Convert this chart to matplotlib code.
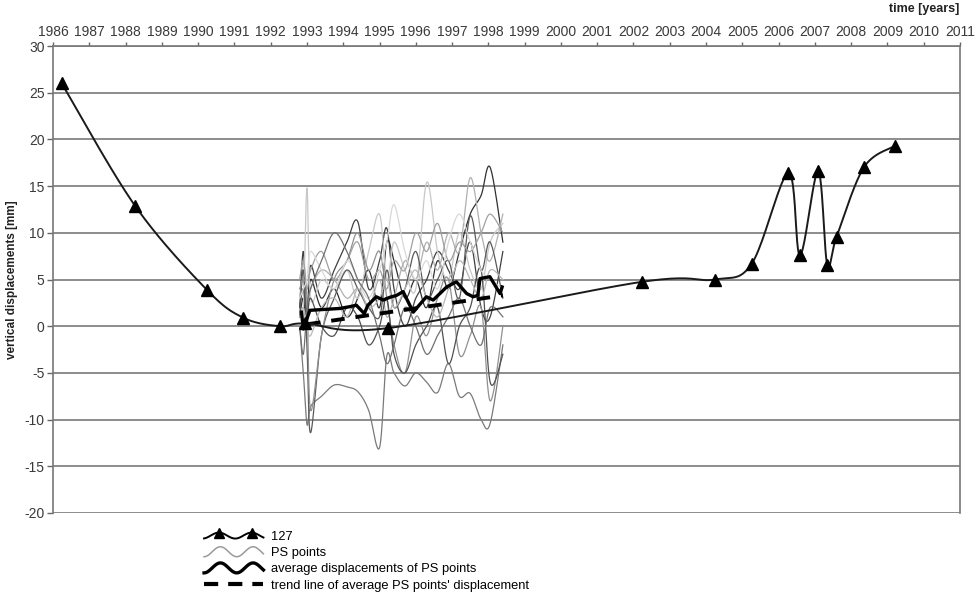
import numpy as np
import matplotlib
matplotlib.use("Agg")
import matplotlib.pyplot as plt
from matplotlib.lines import Line2D
from matplotlib.legend_handler import HandlerBase

plt.rcParams['font.family'] = ['Liberation Sans', 'DejaVu Sans']
plt.rcParams['axes.unicode_minus'] = False

# ---------------- data ----------------
years_ticks = list(range(1986, 2012))
y_ticks = list(range(-20, 31, 5))

# levelling benchmark 127
bm_time = [1986.24, 1988.26, 1990.24, 1991.25, 1992.26, 1992.95, 1995.24,
           2002.23, 2004.25, 2005.26, 2006.27, 2006.59, 2007.09, 2007.34,
           2007.60, 2008.35, 2009.20]
bm_disp = [26.0, 12.9, 3.9, 0.9, 0.0, 0.3, -0.2,
           4.75, 5.0, 6.7, 16.4, 7.6, 16.6, 6.6,
           9.6, 17.0, 19.3]

# PS points time grid
ps_time = [1992.80, 1992.90, 1993.00, 1993.10, 1993.40, 1993.75, 1994.10, 1994.40,
           1994.70, 1995.00, 1995.20, 1995.40, 1995.70, 1996.00, 1996.30, 1996.60,
           1996.90, 1997.20, 1997.50, 1997.80, 1998.05, 1998.40]
ps_a = [2, 8, 1, 6.5, 3, 6, 9, 11.2, 4, 7, 10.5, 4, 0, 3, 5, 8, 6, 4, 9, 2, 1, 8]
ps_b = [0, -5, -10.5, -8.6, -7.5, -6.3, -6.5, -7, -9, -13, -3.2, -5, -6.4, -5, -6, -7.1, -4, -7.5, -7.2, -10, -10.4, -2]
ps_c = [1, 3, 0, 5, 2, 4, 1, 3, 6, 2, 9, 7, 3, 5, 2, 7, 4, 8, 12, 14, 17, 9]
ps_d = [0, 2, 14.8, 3, 5, 4, 6, 3, 8, 12, 5, 9, 6, 4, 15.4, 8, 5, 10, 6, 4, 9, 11]
ps_e = [3, 5, 2, 4, 6, 5, 3, 4, 2, 5, 1, 3, 7, 5, 9, 6, 10, 8, 15.9, 10, 7, 12]
ps_f = [1, 6, -2, -11.4, -1, 3, 6, 4, 2, 1, 6, 2, 4, 8, 3, 5, 7, 3, 11.8, 6, 9, 3]
ps_g = [4, 5, 3, -9, -1, 5, 7, 10, 6, 8, 3, -2, -5, 1, -1, 3, 5, -3, -1, 2, -8, 0]
ps_h = [5, 7, 4, 6, 8, 5, 7, 9, 5, 6, 4, 7, 6, 10, 8, 11, 7, 9, 8, 10, 12, 10]
ps_i = [2, 4, 1, 3, 0, -1, 2, 1, -2, 0, 3, -3, -5, -2, 0, 2, -4, 0, 2, 6, -6, -3]
ps_j = [3, 4, 5, 8, 6, 4, 7, 5, 3, 6, 9, 13, 8, 5, 7, 4, 9, 12, 9, 6, 5, 4]
ps_k = [0, -3, 2, 4, 7, 10, 8, 5, 3, -1, -4, -2, 2, 0, -3, -1, 1, 3, 0, -2, 2, 1]
ps_l = [1, 2, 0, -1, 2, 3, 1, 4, 2, 3, 5, 2, 4, 6, 3, 1, 4, 7, 5, 3, 6, 5]
ps_series = [ps_a, ps_b, ps_c, ps_d, ps_e, ps_f, ps_g, ps_h, ps_i, ps_j, ps_k, ps_l]
ps_colors = ['#404040', '#7a7a7a', '#303030', '#c8c8c8', '#b0b0b0', '#5a5a5a',
             '#909090', '#a0a0a0', '#505050', '#d8d8d8', '#707070', '#b8b8b8']

# average displacement of PS points
avg_time = [1992.85, 1992.90, 1993.08, 1993.91, 1994.19, 1994.36, 1994.58, 1994.68,
            1994.91, 1995.10, 1995.29, 1995.47, 1995.65, 1995.93, 1996.29, 1996.48,
            1996.85, 1997.12, 1997.40, 1997.58, 1997.71, 1997.77, 1998.04, 1998.32, 1998.38]
avg_disp = [1.5, -0.3, 1.7, 1.9, 2.1, 2.25, 1.35, 2.25,
            3.15, 2.8, 3.1, 3.3, 3.7, 1.5, 3.15, 2.8,
            4.2, 4.75, 3.5, 3.15, 3.3, 5.1, 5.3, 3.5, 4.2]

# trend line of average PS displacement
trend_time = [1993.00, 1998.40]
trend_disp = [0.2, 3.3]

# ---------------- figure ----------------
W, H = 979, 592
fig = plt.figure(figsize=(W / 100, H / 100), dpi=100)
left, right, top, bottom = 53 / W, 960 / W, 1 - 46 / H, 1 - 513 / H
ax = fig.add_axes([left, bottom, right - left, top - bottom])
ax.set_xlim(1986, 2011)
ax.set_ylim(-20, 30)

# scale factors (px per unit) used for shape-preserving smoothing
sx = (right - left) * W / 25.0
sy = (top - bottom) * H / 50.0


def smooth(xs, ys, n=24):
    """Excel-like smoothed line: cubic Bezier through points (Catmull-Rom)."""
    P = np.column_stack([np.asarray(xs, float) * sx, np.asarray(ys, float) * sy])
    if len(P) < 3:
        return np.asarray(xs, float), np.asarray(ys, float)
    ext = np.vstack([P[0], P, P[-1]])
    out = []
    t = np.linspace(0, 1, n)[:, None]
    for i in range(1, len(ext) - 2):
        p0, p1, p2, p3 = ext[i - 1], ext[i], ext[i + 1], ext[i + 2]
        c1 = p1 + (p2 - p0) / 6.0
        c2 = p2 - (p3 - p1) / 6.0
        seg = ((1 - t) ** 3) * p1 + 3 * ((1 - t) ** 2) * t * c1 + 3 * (1 - t) * t ** 2 * c2 + t ** 3 * p2
        out.append(seg if i == 1 else seg[1:])
    out = np.vstack(out)
    return out[:, 0] / sx, out[:, 1] / sy


# grid
for yv in y_ticks:
    ax.axhline(yv, color='#6e6e6e', lw=1.1, zorder=0)

# PS points
for ser, col in zip(ps_series, ps_colors):
    xs, ys = smooth(ps_time, ser)
    ax.plot(xs, ys, color=col, lw=0.9, zorder=1)

# average
ax.plot(avg_time, avg_disp, color='black', lw=2.4, zorder=3, solid_joinstyle='round')

# trend
ax.plot(trend_time, trend_disp, color='black', lw=2.8, dashes=(3.5, 2.8), zorder=3)

# benchmark 127
bx, by = smooth(bm_time, bm_disp)
ax.plot(bx, by, color='#1a1a1a', lw=1.4, zorder=4)
ax.plot(bm_time, bm_disp, ls='none', marker='^', ms=8.5, color='black', zorder=5)

# axes styling
ax.xaxis.tick_top()
ax.set_xticks(years_ticks)
ax.set_xticklabels([str(y) for y in years_ticks])
ax.set_yticks(y_ticks)
ax.tick_params(axis='x', which='both', top=True, bottom=False, direction='out',
               length=3, width=1, color='#666666', labelsize=10, labelcolor='#3a3a3a', pad=2)
ax.tick_params(axis='y', direction='out', length=4, width=1, color='#666666',
               labelsize=10, labelcolor='#3a3a3a', pad=2)
for s in ax.spines.values():
    s.set_color('#777777')
    s.set_linewidth(1.2)
ax.spines['bottom'].set_visible(False)

fig.text(959 / W, 1 - 9 / H, 'time [years]', ha='right', va='center',
         fontsize=9, fontweight='bold', color='#222222')
fig.text(12 / W, 1 - 280 / H, 'vertical displacements [mm]', ha='center', va='center',
         rotation=90, fontsize=8.5, fontweight='bold', color='#222222')


# ---------------- legend ----------------
class HandlerWave(HandlerBase):
    def __init__(self, color, lw, markers=False, dashed=False):
        super().__init__()
        self.color, self.lw, self.markers, self.dashed = color, lw, markers, dashed

    def create_artists(self, legend, orig_handle, xdescent, ydescent, width, height, fontsize, trans):
        if self.dashed:
            line = Line2D([0, width], [height / 2] * 2, color=self.color, lw=self.lw,
                          dashes=(3.4, 2.4), transform=trans)
            return [line]
        xs = np.linspace(0, width, 80)
        amp = height * 0.55
        if self.markers:
            ys = height / 2 + amp * 0.6 * np.cos(2 * np.pi * (xs / width - 0.25) / 0.55)
            line = Line2D(xs, ys, color=self.color, lw=self.lw, transform=trans)
            mk = Line2D([width * 0.25, width * 0.80], [height / 2 + amp * 0.6] * 2,
                        ls='none', marker='^', ms=7.5, color='black', transform=trans)
            return [line, mk]
        ys = height / 2 - amp * np.cos(2 * np.pi * (xs / width) / 0.55)
        line = Line2D(xs, ys, color=self.color, lw=self.lw, transform=trans)
        return [line]


h127 = Line2D([], [], color='black')
hps = Line2D([], [], color='gray')
havg = Line2D([], [], color='black', lw=2.4)
htr = Line2D([], [], color='black', lw=2.8, ls='--')
fig.legend([h127, hps, havg, htr],
           ['127', 'PS points', 'average displacements of PS points',
            "trend line of average PS points' displacement"],
           handler_map={h127: HandlerWave('black', 1.4, markers=True),
                        hps: HandlerWave('#9a9a9a', 1.1),
                        havg: HandlerWave('black', 2.4),
                        htr: HandlerWave('black', 3.0, dashed=True)},
           loc='upper left', bbox_to_anchor=(195 / W, 1 - 522 / H), frameon=False,
           fontsize=9.3, handlelength=4.6, handletextpad=0.6, labelspacing=0.32,
           borderpad=0.2)

fig.savefig('out.png', dpi=100)
